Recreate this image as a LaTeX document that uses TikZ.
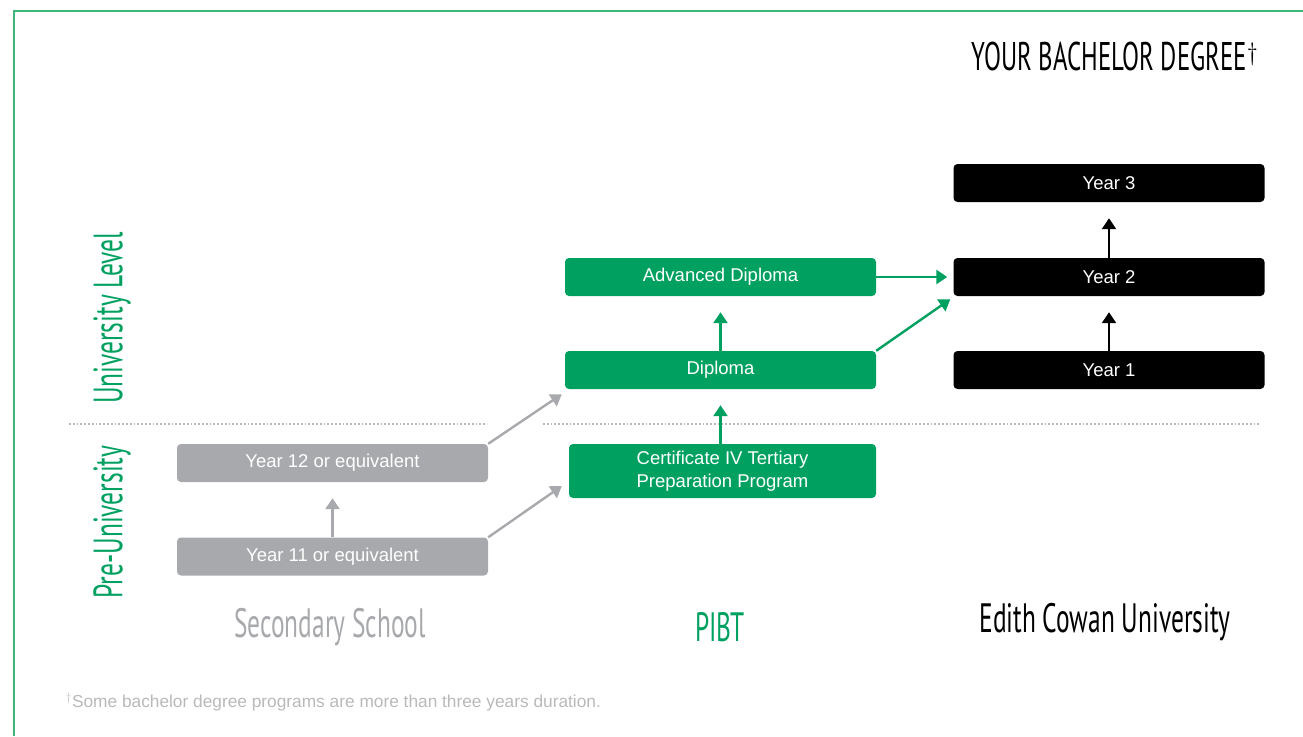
\documentclass[tikz,border=0pt]{standalone}
\usepackage{fontspec}
\setmainfont{Liberation Sans}
\newfontfamily\handfont[FakeStretch=0.62]{PT Sans}
\usetikzlibrary{arrows.meta}

\definecolor{pibtgreen}{RGB}{0,161,96}
\definecolor{schoolgrey}{RGB}{167,169,172}
\definecolor{framegreen}{RGB}{60,184,120}
\definecolor{notegrey}{RGB}{185,185,185}

\tikzset{
  stagebox/.style={rectangle, rounded corners=4pt, minimum width=311pt, minimum height=38pt,
    text=white, font=\fontsize{18.5}{23}\selectfont, inner sep=0pt, align=center},
  greybox/.style={stagebox, fill=schoolgrey},
  greenbox/.style={stagebox, fill=pibtgreen},
  blackbox/.style={stagebox, fill=black},
  flow/.style={line width=2.4pt, -{Triangle[width=14pt,length=11pt]}},
  sidelabel/.style={rotate=90, text=pibtgreen, font=\handfont\fontsize{41}{41}\selectfont},
  columnlabel/.style={font=\handfont\fontsize{41}{41}\selectfont}
}

\begin{document}
\begin{tikzpicture}[x=1pt,y=-1pt]
    % Define the bounding box and the frame
    \useasboundingbox (0,0) rectangle (1303,736);
    \draw[framegreen, line width=1.5pt] (14,736) -- (14,11) -- (1303,11);

    % Title
    \node[anchor=east, font=\handfont\fontsize{40}{40}\selectfont] (title) at (1262,56) {YOUR BACHELOR DEGREE$^{\dagger}$};

    % Dotted divider between the two levels
    \draw[notegrey, line width=1.8pt, dotted] (69,424) -- (487,424);
    \draw[notegrey, line width=1.8pt, dotted] (543,424) -- (1260,424);

    % Side labels
    \node[sidelabel] (unilevel) at (112,318) {University Level};
    \node[sidelabel] (preuni) at (112,522) {Pre-University};

    % Secondary school boxes
    \node[greybox] (y12) at (332.5,463) {Year 12 or equivalent};
    \node[greybox] (y11) at (332.5,556.5) {Year 11 or equivalent};

    % PIBT boxes
    \node[greenbox] (adv) at (720.5,277) {Advanced Diploma};
    \node[greenbox] (dip) at (720.5,370) {Diploma};
    \node[greenbox, minimum width=307pt, minimum height=54pt] (cert) at (722.5,471)
        {Certificate IV Tertiary\\Preparation Program};

    % University boxes
    \node[blackbox] (ecu3) at (1109,183) {Year 3};
    \node[blackbox] (ecu2) at (1109,277) {Year 2};
    \node[blackbox] (ecu1) at (1109,370) {Year 1};

    % Arrows
    \draw[flow, schoolgrey, shorten >=16pt] (y11.north) -- (y12.south);
    \draw[flow, schoolgrey] (y12.north east) -- ([shift={(-3,5)}]dip.south west);
    \draw[flow, schoolgrey] (y11.north east) -- ([shift={(-7,15)}]cert.west);
    \draw[flow, pibtgreen, shorten >=16pt] (cert.north -| dip.south) -- (dip.south);
    \draw[flow, pibtgreen, shorten >=16pt] (dip.north) -- (adv.south);
    \draw[flow, pibtgreen, shorten >=6pt] (adv.east) -- (ecu2.west);
    \draw[flow, pibtgreen] (dip.north east) -- ([shift={(-3,3)}]ecu2.south west);
    \draw[flow, black, shorten >=16pt] (ecu1.north) -- (ecu2.south);
    \draw[flow, black, shorten >=16pt] (ecu2.north) -- (ecu3.south);

    % Column labels
    \node[columnlabel, text=schoolgrey] (school) at (330,627) {Secondary School};
    \node[columnlabel, text=pibtgreen] (pibt) at (720,627) {PIBT};
    \node[columnlabel] (ecu) at (1105,622) {Edith Cowan University};

    % Footnote
    \node[anchor=west, text=notegrey, font=\fontsize{17.3}{17}\selectfont, inner sep=0pt] (note) at (66,702)
        {$^{\dagger}$Some bachelor degree programs are more than three years duration.};
\end{tikzpicture}
\end{document}
